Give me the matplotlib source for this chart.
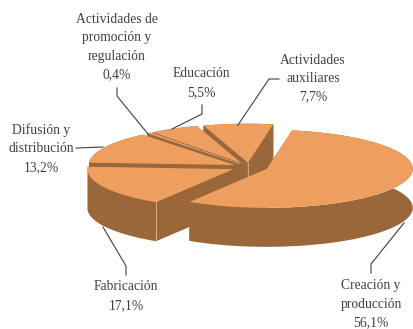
import numpy as np
import matplotlib
matplotlib.use("Agg")
import matplotlib.pyplot as plt

# slices, clockwise from the start angle
categorias = ["Creación y\nproducción", "Fabricación", "Difusión y\ndistribución",
              "Actividades de\npromoción y\nregulación", "Educación", "Actividades\nauxiliares"]
valores = [56.1, 17.1, 13.2, 0.4, 5.5, 7.7]
explode = [0.13, 0.12, 0.11, 0.11, 0.11, 0.11]

# label centres and leader lines, pixels
pos_texto = [(371, 304.5), (126, 296), (41, 148.5), (117, 47), (201, 83), (313, 78.5)]
guias = [[(371, 273), (371, 264), (404, 223)],
         [(126, 275), (126, 266), (103, 227)],
         [(76, 148), (103, 147)],
         [(117, 88), (117, 96), (148, 134)],
         [(202, 105), (202, 114), (172, 129)],
         [(279, 79), (269, 79), (238, 125)]]

color_top = "#EE9F60"
color_lado = "#996739"
color_texto = "#404040"

cx, cy = 249, 167
rx, ry = 146, 39
alto = 39
inicio = 80

fig = plt.figure(figsize=(4.14, 3.29), dpi=100)
ax = fig.add_axes([0, 0, 1, 1])
ax.set_xlim(0, 414)
ax.set_ylim(329, 0)
ax.axis("off")


def punto(ang, ox, oy):
    return ox + rx * np.cos(ang), oy - ry * np.sin(ang)


# angles of every slice
bordes = inicio - np.cumsum([0] + valores) * 360 / sum(valores)
rebanadas = []
for i in range(len(valores)):
    a1, a2 = np.radians(bordes[i]), np.radians(bordes[i + 1])
    medio = (a1 + a2) / 2
    ox = cx + explode[i] * rx * np.cos(medio)
    oy = cy - explode[i] * ry * np.sin(medio)
    rebanadas.append((a1, a2, ox, oy))

# back slices first, the big one last
orden = [5, 4, 3, 2, 1, 0]
for z, i in enumerate(orden):
    a1, a2, ox, oy = rebanadas[i]
    t = np.linspace(a1, a2, 200)
    xs, ys = punto(t, ox, oy)
    # walls and rim
    ax.fill(np.r_[xs, xs[::-1]], np.r_[ys, ys[::-1] + alto], color=color_lado, lw=0, zorder=2 * z)
    for a in (a1, a2):
        px, py = punto(a, ox, oy)
        ax.fill([ox, px, px, ox], [oy, py, py + alto, oy + alto], color=color_lado, lw=0, zorder=2 * z)
    # top
    ax.fill(np.r_[ox, xs], np.r_[oy, ys], color=color_top, lw=0, zorder=2 * z + 1)

# pale edges on the walls
ox, oy = rebanadas[5][2:]
ax.plot([ox, ox], [oy, oy + alto], color="#D9B99B", lw=0.6, zorder=5)
a1, a2, ox, oy = rebanadas[1]
px, py = punto(a1, ox, oy)
ax.plot([px, px], [py, py + alto], color="#D9B99B", lw=0.6, zorder=9)

# thin light line along the sliver
a1, a2, ox, oy = rebanadas[3]
px, py = punto(a2, ox, oy)
ax.plot([ox, px], [oy, py], color="#D9B99B", lw=0.4, zorder=8)

for g in guias:
    g = np.array(g)
    ax.plot(g[:, 0], g[:, 1], color=color_texto, lw=0.8, zorder=20)

for nombre, v, (x, y) in zip(categorias, valores, pos_texto):
    etiqueta = nombre + "\n" + f"{v:.1f}".replace(".", ",") + "%"
    ax.text(x, y, etiqueta, ha="center", va="center", family="Liberation Serif",
            fontsize=9.8, color=color_texto, linespacing=1.55, zorder=21)

fig.savefig("out.png", dpi=100)
